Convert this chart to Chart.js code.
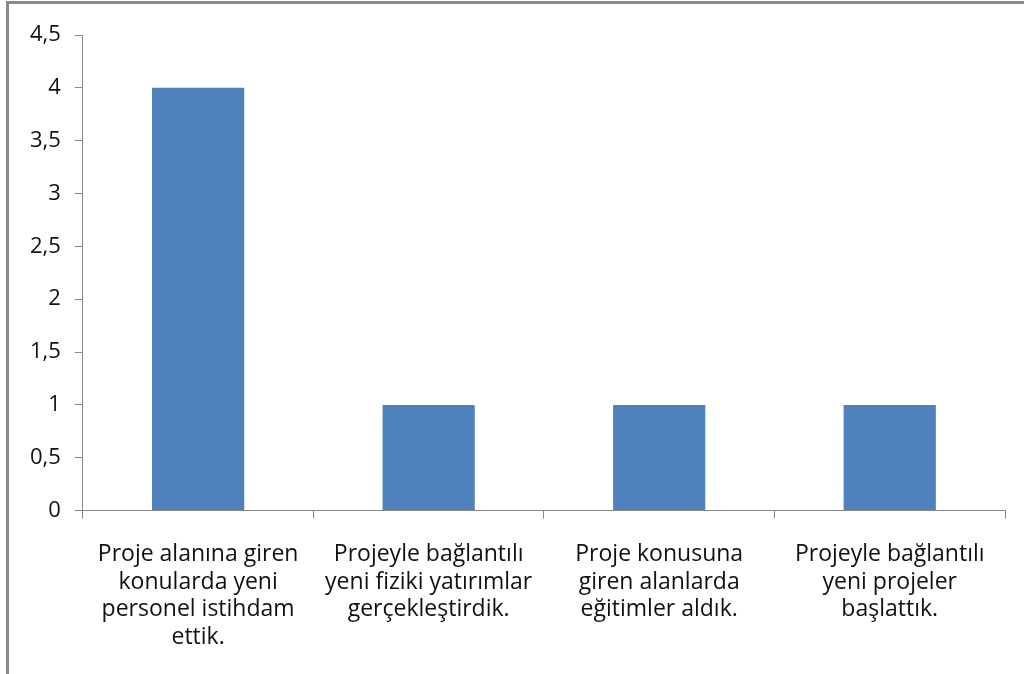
<!DOCTYPE html>
<html>
<head>
<meta charset="utf-8">
<script src="https://cdn.jsdelivr.net/npm/chart.js@4"></script>
<style>
  html, body { margin: 0; padding: 0; background: #fff; }
  #frame {
    position: absolute; left: 6px; top: 1px; width: 1018px; height: 673px;
    border-top: 3px solid #8a8a8a; border-left: 3px solid #8a8a8a;
    box-sizing: border-box;
  }
  #wrap { position: absolute; left: 0; top: 0; width: 1015px; height: 670px; }
</style>
</head>
<body>
<div id="frame"><div id="wrap"><canvas id="barChart"></canvas></div></div>
<script>
// kategoriler ve degerler
var categories = [
  ['Proje alanına giren', 'konularda yeni', 'personel istihdam', 'ettik.'],
  ['Projeyle bağlantılı', 'yeni fiziki yatırımlar', 'gerçekleştirdik.'],
  ['Proje konusuna', 'giren alanlarda', 'eğitimler aldık.'],
  ['Projeyle bağlantılı', 'yeni projeler', 'başlattık.']
];
var values = [4, 1, 1, 1];
var yMin = 0, yMax = 4.5, yStep = 0.5;

document.addEventListener("DOMContentLoaded", function () {
  var ctx = document.getElementById('barChart').getContext('2d');
  new Chart(ctx, {
    type: 'bar',
    data: {
      labels: categories,
      datasets: [{
        data: values,
        backgroundColor: '#4F81BD',
        categoryPercentage: 0.4,
        barPercentage: 1.0
      }]
    },
    options: {
      responsive: true,
      maintainAspectRatio: false,
      animation: false,
      layout: { padding: { left: 7, right: 19, top: 31, bottom: 1 } },
      plugins: { legend: { display: false }, tooltip: { enabled: false } },
      scales: {
        x: {
          grid: { drawOnChartArea: false, color: '#888', tickLength: 8 },
          border: { color: '#888' },
          ticks: {
            color: '#111', maxRotation: 0, autoSkip: false, padding: 22,
            font: { family: 'Open Sans', size: 23, lineHeight: 1.2 }
          }
        },
        y: {
          min: yMin, max: yMax,
          grid: { drawOnChartArea: false, color: '#888', tickLength: 8 },
          border: { color: '#888' },
          ticks: {
            stepSize: yStep, color: '#111', padding: 14,
            font: { family: 'Open Sans', size: 22 },
            callback: function (v) { return String(v).replace('.', ','); }
          }
        }
      }
    }
  });
});
</script>
</body>
</html>
